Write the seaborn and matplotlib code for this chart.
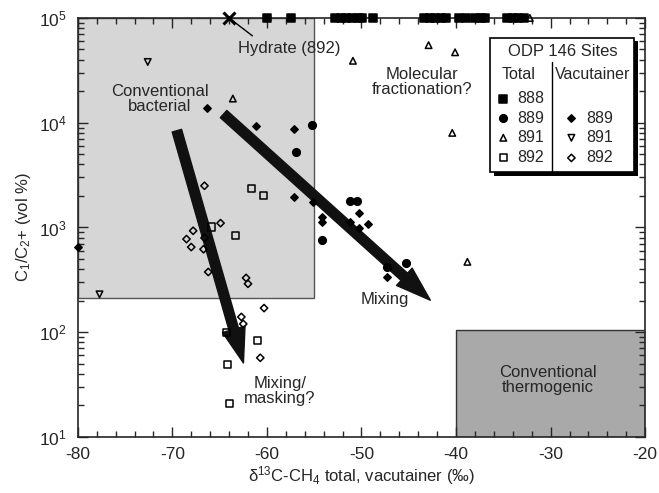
import numpy as np
import pandas as pd
import matplotlib
matplotlib.use("Agg")
import matplotlib.pyplot as plt
import seaborn as sns
from matplotlib.patches import Rectangle, FancyArrowPatch
from matplotlib.ticker import MultipleLocator

# ODP 146 sites, total gas
total_888_x = [-60.0, -57.5, -52.8, -52.2, -51.6, -51.0, -50.4, -49.9, -48.8,
               -43.4, -42.8, -42.2, -41.6, -41.1, -39.7, -38.9, -38.0, -37.4,
               -36.9, -34.6, -34.0, -33.4, -32.8]
total_888_y = [1e5, 1e5, 1e5, 1e5, 1e5, 1e5, 1e5, 1e5, 1e5, 1e5, 1e5, 1e5,
               1e5, 1e5, 1e5, 1e5, 1e5, 1e5, 1e5, 1e5, 1e5, 1e5, 1e5]
total_889_x = [-55.2, -56.9, -45.3, -54.2, -51.2, -50.5, -47.3]
total_889_y = [9500, 5300, 460, 760, 1800, 1800, 420]
total_891_x = [-63.6, -50.9, -42.9, -40.1, -40.4, -38.8, -32.2]
total_891_y = [17000, 39000, 55000, 47000, 8000, 470, 1e5]
total_892_x = [-61.6, -60.4, -65.9, -63.3, -64.3, -61.0, -64.2, -64.0]
total_892_y = [2340, 2000, 1010, 830, 100, 83, 49, 21]

# vacutainer gas
vac_889_x = [-80.0, -66.3, -61.2, -57.1, -57.1, -55.1, -54.2, -54.2, -51.2,
             -50.3, -50.3, -49.3, -47.3]
vac_889_y = [650, 13800, 9400, 8700, 1950, 1750, 1260, 1120, 1120, 1380, 990,
             1070, 340]
vac_891_x = [-72.6, -77.7]
vac_891_y = [38000, 230]
vac_892_x = [-66.6, -64.9, -67.8, -68.5, -68.0, -66.6, -66.7, -66.2, -62.2,
             -62.0, -60.3, -62.7, -62.5, -60.7]
vac_892_y = [2500, 1100, 930, 775, 650, 795, 620, 376, 330, 290, 170, 140,
             120, 57]

hydrate_xy = (-64.0, 1e5)

# interpretation fields: (x0, x1, y0, y1)
bacterial_box = (-80, -55, 210, 1e5)
thermogenic_box = (-40, -20, 10, 105)

# trend arrows (start, end)
arrow_masking = ((-69.6, 8900), (-62.4, 48))
arrow_mixing = ((-64.8, 12600), (-42.5, 194))

groups = [
    ("888 total", total_888_x, total_888_y, "s", "black", 36),
    ("889 total", total_889_x, total_889_y, "o", "black", 30),
    ("891 total", total_891_x, total_891_y, "^", "none", 22),
    ("892 total", total_892_x, total_892_y, "s", "none", 26),
    ("889 vac", vac_889_x, vac_889_y, "D", "black", 14),
    ("891 vac", vac_891_x, vac_891_y, "v", "none", 22),
    ("892 vac", vac_892_x, vac_892_y, "D", "none", 14),
]

sns.set_style("ticks")
plt.rcParams["font.family"] = ["Liberation Sans", "DejaVu Sans"]
plt.rcParams["mathtext.fontset"] = "custom"
plt.rcParams["mathtext.rm"] = "Liberation Sans"
plt.rcParams["mathtext.it"] = "Liberation Sans:italic"
plt.rcParams["mathtext.default"] = "rm"
plt.rcParams["axes.unicode_minus"] = False

fig = plt.figure(figsize=(6.59, 4.93), dpi=100)
ax = fig.add_axes([0.118, 0.1136, 0.861, 0.85])
ax.set_yscale("log")
ax.set_xlim(-80, -20)
ax.set_ylim(10, 1e5)

bx0, bx1, by0, by1 = bacterial_box
ax.add_patch(Rectangle((bx0, by0), bx1 - bx0, by1 - by0, facecolor="#d6d6d6",
                       edgecolor="#555555", lw=1.0, zorder=0))
tx0, tx1, ty0, ty1 = thermogenic_box
ax.add_patch(Rectangle((tx0, ty0), tx1 - tx0, ty1 - ty0, facecolor="#a9a9a9",
                       edgecolor="#333333", lw=1.0, zorder=0))

for name, xs, ys, mk, fc, sz in groups:
    df = pd.DataFrame({"d13C": xs, "ratio": ys})
    sns.scatterplot(data=df, x="d13C", y="ratio", ax=ax, marker=mk, s=sz,
                    color=fc, edgecolor="black", linewidth=1.1,
                    clip_on=False, zorder=4, legend=False)

ax.plot(*hydrate_xy, marker="x", ms=9, mew=2.2, color="black", clip_on=False,
        zorder=5)
ax.annotate("", xy=hydrate_xy, xytext=(-61.3, 65000),
            arrowprops=dict(arrowstyle="-", color="black", lw=1))
ax.text(-57.6, 51000, "Hydrate (892)", ha="center", va="center", fontsize=12)

for (p0, p1) in [arrow_masking, arrow_mixing]:
    ax.add_patch(FancyArrowPatch(p0, p1, mutation_scale=14, color="#111111",
                 arrowstyle="simple,head_length=1.8,head_width=1.2,tail_width=0.5",
                 zorder=3))

ax.text(-71.3, 17000, "Conventional\nbacterial", ha="center", va="center",
        fontsize=12, linespacing=1.0)
ax.text(-43.6, 24500, "Molecular\nfractionation?", ha="center", va="center",
        fontsize=12, linespacing=1.05)
ax.text(-47.5, 205, "Mixing", ha="center", va="center", fontsize=12)
ax.text(-58.6, 27.5, "Mixing/\nmasking?", ha="center", va="center",
        fontsize=12, linespacing=1.05)
ax.text(-30.3, 35, "Conventional\nthermogenic", ha="center", va="center",
        fontsize=12, linespacing=1.0)

# hand-drawn legend box
tr = ax.transAxes
ax.add_patch(Rectangle((0.733, 0.624), 0.254, 0.32, transform=tr,
                       facecolor="black", edgecolor="none", zorder=6, clip_on=False))
ax.add_patch(Rectangle((0.727, 0.632), 0.254, 0.32, transform=tr,
                       facecolor="white", edgecolor="black", lw=1.2, zorder=7,
                       clip_on=False))
ax.text(0.854, 0.919, "ODP 146 Sites", transform=tr, ha="center", va="center",
        fontsize=12, zorder=8)
ax.text(0.776, 0.864, "Total", transform=tr, ha="center", va="center",
        fontsize=11.5, zorder=8)
ax.text(0.908, 0.864, "Vacutainer", transform=tr, ha="center", va="center",
        fontsize=11.5, zorder=8)
ax.plot([0.836, 0.836], [0.632, 0.895], transform=tr, color="black", lw=1.0,
        zorder=8)
row_y = {"888": 0.807, "889": 0.761, "891": 0.714, "892": 0.666}
for name, xs, ys, mk, fc, sz in groups:
    site, kind = name.split()
    mx, lx = (0.750, 0.774) if kind == "total" else (0.870, 0.896)
    ax.scatter([mx], [row_y[site]], transform=tr, marker=mk, s=sz, c=fc,
               edgecolors="black", linewidths=1.1, zorder=8, clip_on=False)
    ax.text(lx, row_y[site], site, transform=tr, ha="left", va="center",
            fontsize=11.5, zorder=8)

ax.xaxis.set_major_locator(MultipleLocator(10))
ax.xaxis.set_minor_locator(MultipleLocator(2))
ax.tick_params(which="both", direction="in", top=True, right=True,
               labelsize=12.5, width=1)
ax.tick_params(which="major", length=7)
ax.tick_params(which="minor", length=4)
ax.tick_params(axis="x", which="major", pad=7)
ax.tick_params(axis="y", which="major", pad=8)
for sp in ax.spines.values():
    sp.set_linewidth(1.2)

ax.set_xlabel("δ$^{13}$C-CH$_4$ total, vacutainer (‰)", fontsize=12,
              labelpad=2)
ax.set_ylabel("C$_1$/C$_2$+ (vol %)", fontsize=12)

fig.savefig("out.png", dpi=100)
